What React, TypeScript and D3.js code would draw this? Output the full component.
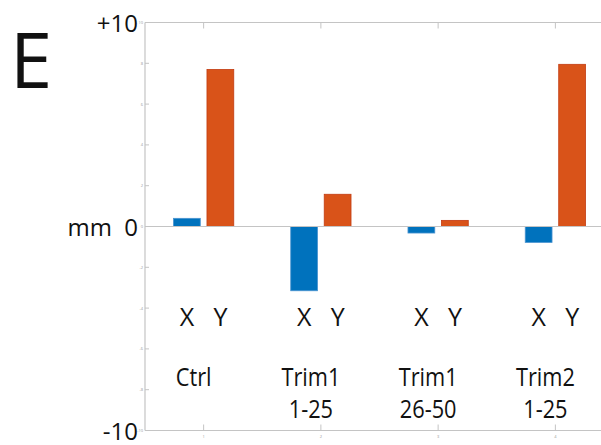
import * as d3 from 'd3';

// values (mm)
const categories = [['Ctrl'], ['Trim1', '1-25'], ['Trim1', '26-50'], ['Trim2', '1-25']];
const seriesNames = ['X', 'Y'];
const xValues = [0.4, -3.15, -0.32, -0.78];
const yValues = [7.7, 1.58, 0.3, 7.95];
const yTicks = [-10, -8, -6, -4, -2, 0, 2, 4, 6, 8, 10];
const colors = ['#0072BD', '#D95319'];
const strokes = ['#4a93d0', '#c23c12'];

const W = 601;
const H = 445;
const font = '"Open Sans", "Noto Sans", sans-serif';

export default function App() {
  const x = d3.scaleLinear().domain([0.5, 4.5]).range([145, 614]);
  const y = d3.scaleLinear().domain([-10, 10]).range([430.5, 22.5]);
  const grey = '#c4c4c4';

  // matlab style grouped bars
  const offsets = [-0.1428, 0.1428];
  const barW = 0.2286;
  const bars = [xValues, yValues].flatMap((vals, s) =>
    vals.map((v, i) => ({ s, i, v, cx: i + 1 + offsets[s] }))
  );

  return (
    <svg width={W} height={H} style={{ position: 'absolute', left: 0, top: 0, background: '#fff' }}>
      {/* panel letter */}
      <text x={10} y={88} fontFamily={font} fontSize={76} fill="#111">E</text>

      {/* axes frame */}
      <line x1={x(0.5)} x2={W} y1={y(10)} y2={y(10)} stroke={grey} strokeWidth={1.2} />
      <line x1={x(0.5)} x2={W} y1={y(-10)} y2={y(-10)} stroke={grey} strokeWidth={1.2} />
      <line x1={x(0.5)} x2={x(0.5)} y1={y(10)} y2={y(-10)} stroke={grey} strokeWidth={1.2} />

      {/* y ticks */}
      {yTicks.map(t => (
        <g key={t}>
          <line x1={x(0.5)} x2={x(0.5) + 4} y1={y(t)} y2={y(t)} stroke={grey} />
          <text x={x(0.5) - 2} y={y(t) + 1.5} fontSize={4} fill="#999" textAnchor="end" fontFamily={font}>{t}</text>
        </g>
      ))}

      {/* x ticks top and bottom */}
      {categories.map((_, i) => (
        <g key={i}>
          <line x1={x(i + 1)} x2={x(i + 1)} y1={y(10)} y2={y(10) + 6} stroke={grey} />
          <line x1={x(i + 1)} x2={x(i + 1)} y1={y(-10)} y2={y(-10) - 6} stroke={grey} />
          <text x={x(i + 1)} y={y(-10) + 7} fontSize={4} fill="#999" textAnchor="middle" fontFamily={font}>{i + 1}</text>
        </g>
      ))}

      {/* bars */}
      {bars.map(b => {
        const x0 = x(b.cx - barW / 2);
        const x1 = x(b.cx + barW / 2);
        return (
          <rect key={`${b.s}-${b.i}`} x={x0} width={x1 - x0}
            y={y(Math.max(0, b.v))} height={Math.abs(y(b.v) - y(0))}
            fill={colors[b.s]} stroke={strokes[b.s]} strokeWidth={0.8} />
        );
      })}

      {/* zero line */}
      <line x1={x(0.5)} x2={W} y1={y(0)} y2={y(0)} stroke={grey} strokeWidth={1.2} />

      {/* y labels */}
      <g fontFamily={font} fontSize={24} fill="#111" textAnchor="end">
        <text x={138} y={y(10) + 9}>+10</text>
        <text x={138} y={y(0) + 9}>0</text>
        <text x={112} y={y(0) + 9}>mm</text>
        <text x={138} y={y(-10) + 9}>-10</text>
      </g>

      {/* series letters under each bar */}
      <g fontFamily={font} fontSize={25} fill="#111" textAnchor="middle">
        {bars.map(b => (
          <text key={`l${b.s}-${b.i}`} x={x(b.cx)} y={326}>{seriesNames[b.s]}</text>
        ))}
      </g>

      {/* category names, narrowed a bit like the original font */}
      <g fontFamily={font} fontSize={25} fill="#111" textAnchor="middle">
        {categories.flatMap((lines, i) =>
          lines.map((l, j) => (
            <text key={`${i}-${j}`} transform={`translate(${x(i + 1) - 10},${386 + j * 32}) scale(0.87,1)`}>{l}</text>
          ))
        )}
      </g>
    </svg>
  );
}
